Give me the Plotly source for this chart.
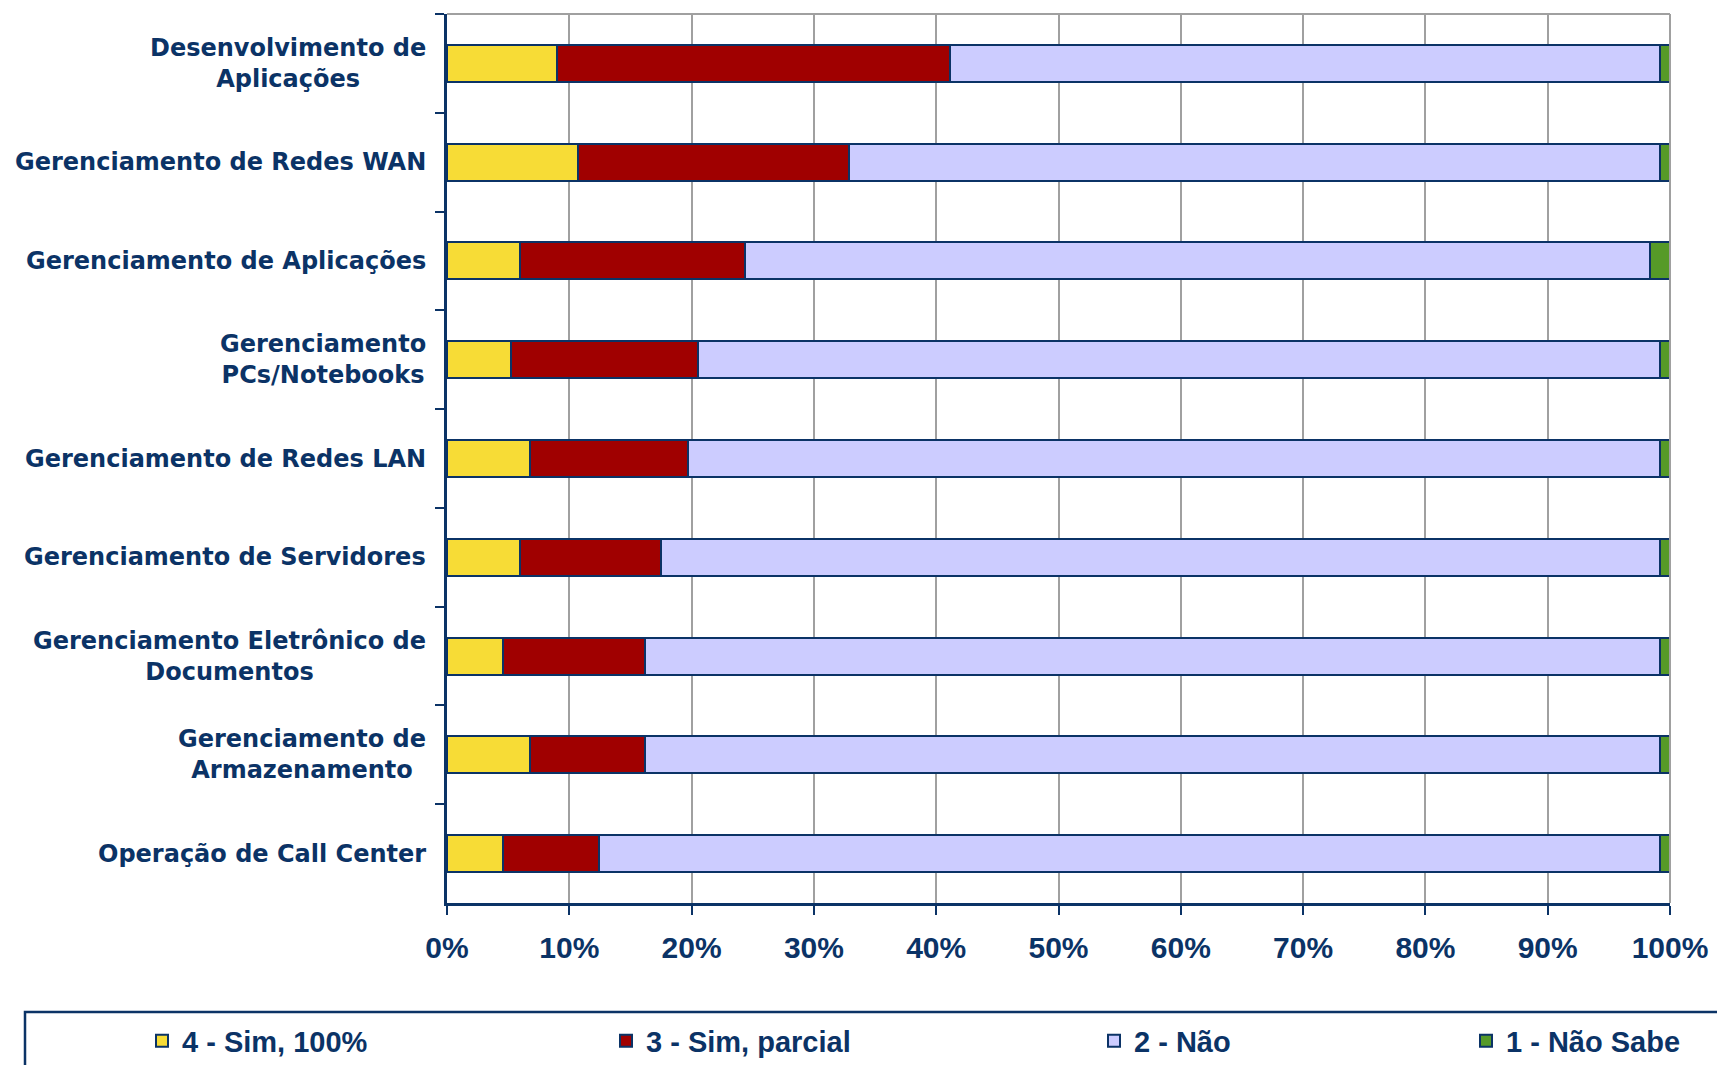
import plotly.graph_objects as go

# ---------------- data ----------------
categories = [
    "Desenvolvimento de Aplicações",
    "Gerenciamento de Redes WAN",
    "Gerenciamento de Aplicações",
    "Gerenciamento PCs/Notebooks",
    "Gerenciamento de Redes LAN",
    "Gerenciamento de Servidores",
    "Gerenciamento Eletrônico de Documentos",
    "Gerenciamento de Armazenamento",
    "Operação de Call Center",
]
category_labels = [
    "Desenvolvimento de<br>Aplicações",
    "Gerenciamento de Redes WAN",
    "Gerenciamento de Aplicações",
    "Gerenciamento<br>PCs/Notebooks",
    "Gerenciamento de Redes LAN",
    "Gerenciamento de Servidores",
    "Gerenciamento Eletrônico de<br>Documentos",
    "Gerenciamento de<br>Armazenamento",
    "Operação de Call Center",
]
series_names = ["4 - Sim, 100%", "3 - Sim, parcial", "2 - Não", "1 - Não Sabe"]
sim_100 = [9.0, 10.7, 6.0, 5.2, 6.8, 6.0, 4.6, 6.8, 4.6]
sim_parcial = [32.1, 22.2, 18.4, 15.3, 12.9, 11.5, 11.6, 9.4, 7.8]
nao = [58.1, 66.3, 74.0, 78.7, 79.5, 81.7, 83.0, 83.0, 86.8]
nao_sabe = [0.8, 0.8, 1.6, 0.8, 0.8, 0.8, 0.8, 0.8, 0.8]
x_tick_values = [0, 10, 20, 30, 40, 50, 60, 70, 80, 90, 100]
x_tick_labels = ["0%", "10%", "20%", "30%", "40%", "50%", "60%", "70%", "80%", "90%", "100%"]

# ---------------- style ----------------
NAVY = "#0b3366"
GRID = "#a0a0a0"
colors = ["#f7dc36", "#a00000", "#ccccff", "#569a28"]
W, H = 1717, 1065
L, R, T, B = 447, 47, 14, 162
PW, PH = W - L - R, H - T - B

def px_x(p):
    return (p - L) / PW

def px_y(p):
    return (H - B - p) / PH

legend_ids = ["legend", "legend2", "legend3", "legend4"]
legend_symbol_left = [156, 620, 1108, 1480]

fig = go.Figure()
for name, vals, col, lg in zip(series_names, [sim_100, sim_parcial, nao, nao_sabe], colors, legend_ids):
    fig.add_trace(go.Bar(
        y=categories, x=vals, name=name, orientation="h",
        marker=dict(color=col, line=dict(color=NAVY, width=2)),
        legend=lg, hoverinfo="name+x",
    ))

legend_font = dict(family="Liberation Sans, Arial, sans-serif", size=29, color=NAVY, weight="bold")
legend_layouts = {}
for lg, sx in zip(legend_ids, legend_symbol_left):
    legend_layouts[lg] = dict(
        x=px_x(sx - 14), xanchor="left",
        y=px_y(1041), yanchor="middle",
        orientation="h", font=legend_font,
        bgcolor="rgba(0,0,0,0)", borderwidth=0,
    )

annotations = []
for cat, lab in zip(categories, category_labels):
    annotations.append(dict(
        x=0, xref="paper", xanchor="right", xshift=-19,
        y=cat, yref="y", yanchor="middle",
        text=lab, showarrow=False, align="center",
        font=dict(family="DejaVu Sans, sans-serif", size=24, color=NAVY, weight="bold"),
    ))

fig.update_layout(
    width=W, height=H,
    margin=dict(l=L, r=R, t=T, b=B, autoexpand=False),
    paper_bgcolor="white", plot_bgcolor="white",
    barmode="stack", bargap=0.625,
    showlegend=True,
    annotations=annotations,
    shapes=[
        dict(type="line", xref="paper", yref="paper", x0=0, x1=1, y0=1, y1=1,
             line=dict(color=GRID, width=2)),
        dict(type="line", xref="paper", yref="paper", x0=1, x1=1, y0=0, y1=1,
             line=dict(color=GRID, width=2)),
        dict(type="rect", xref="paper", yref="paper",
             x0=px_x(25), x1=px_x(1760), y0=px_y(1012), y1=px_y(1100),
             line=dict(color=NAVY, width=2.5), fillcolor="rgba(0,0,0,0)", layer="above"),
    ],
    **legend_layouts,
)

fig.update_xaxes(
    range=[0, 100], tickmode="array", tickvals=x_tick_values, ticktext=x_tick_labels,
    showgrid=True, gridcolor=GRID, gridwidth=2, zeroline=False,
    showline=True, linecolor=NAVY, linewidth=2.5,
    ticks="outside", ticklen=9, tickwidth=2, tickcolor=NAVY,
    ticklabelstandoff=7,
    tickfont=dict(family="Liberation Sans, Arial, sans-serif", size=30, color=NAVY, weight="bold"),
)
fig.update_yaxes(
    type="category", autorange="reversed",
    showgrid=False, zeroline=False,
    showline=True, linecolor=NAVY, linewidth=2.5,
    ticks="outside", ticklen=9, tickwidth=2, tickcolor=NAVY,
    tickson="boundaries", showticklabels=False,
)

fig.write_html(
    "out.html",
    config={"displayModeBar": False},
    post_script="document.documentElement.style.margin='0';document.body.style.margin='0';document.body.style.overflow='hidden';",
)
